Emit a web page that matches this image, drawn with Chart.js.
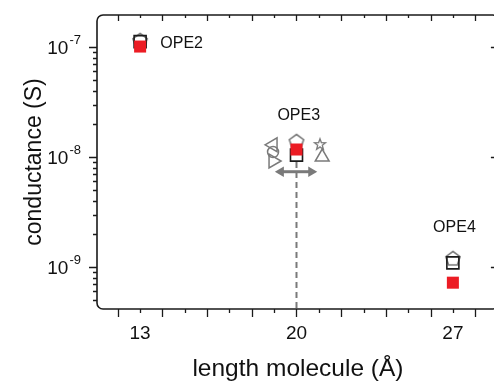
<!DOCTYPE html>
<html>
<head>
<meta charset="utf-8">
<script src="https://cdn.jsdelivr.net/npm/chart.js@4.4.0/dist/chart.umd.min.js"></script>
<style>
  html, body { margin: 0; padding: 0; background: #fff; overflow: hidden; }
  canvas { display: block; }
</style>
</head>
<body>
<canvas id="chart" width="509" height="385"></canvas>
<script>
// molecule lengths (Å) and conductances (S)
const lengths = [13, 20, 27];
const molecules = ['OPE2', 'OPE3', 'OPE4'];
const gRed = [1.01e-7, 1.17e-8, 7.2e-10];
const gSquare = [1.12e-7, 1.04e-8, 1.09e-9];
const gPentagon = [1.16e-7, 1.40e-8, 1.21e-9];

// other OPE3 values, drawn either side of 20 Å
const otherX = [18.95, 18.95, 18.95, 21.05, 21.15];
const otherG = [1.29e-8, 1.11e-8, 9.2e-9, 1.31e-8, 1.0e-8];

// spread arrow and dashed guide at OPE3
const arrowX = [19.3, 20.66];
const arrowG = 7.35e-9;
const guideX = 20;
const guideG = [9.0e-9, 4.0e-10];

// where the molecule names go
const nameX = [14.86, 20.1, 27.07];
const nameG = [1.08e-7, 2.36e-8, 2.29e-9];

const xTickLabels = [13, 20, 27];
const yDecades = [-9, -8, -7];

const FONT = "'Liberation Sans', Arial, sans-serif";
const GREY = '#7a7a7a';

function shape(size, draw) {
  const c = document.createElement('canvas');
  c.width = c.height = size;
  const ctx = c.getContext('2d');
  ctx.strokeStyle = GREY;
  ctx.lineWidth = 1.6;
  draw(ctx, size / 2);
  return c;
}

const pentagon = shape(20, (ctx, c) => {
  ctx.beginPath();
  for (let k = 0; k < 5; k++) {
    const a = -Math.PI / 2 + k * 2 * Math.PI / 5;
    const px = c + 7.5 * Math.cos(a), py = c + 1 + 7.5 * Math.sin(a);
    k ? ctx.lineTo(px, py) : ctx.moveTo(px, py);
  }
  ctx.closePath();
  ctx.stroke();
});

const star = shape(16, (ctx, c) => {
  ctx.lineWidth = 1.3;
  ctx.beginPath();
  for (let k = 0; k < 10; k++) {
    const a = -Math.PI / 2 + k * Math.PI / 5;
    const r = k % 2 ? 2.4 : 5.8;
    const px = c + r * Math.cos(a), py = c + 0.5 + r * Math.sin(a);
    k ? ctx.lineTo(px, py) : ctx.moveTo(px, py);
  }
  ctx.closePath();
  ctx.stroke();
});

const pts = (xs, ys) => xs.map((x, i) => ({x: x, y: ys[i]}));

const otherStyles = [
  {pointStyle: 'triangle', rotation: -90, radius: 8},
  {pointStyle: 'circle', rotation: 0, radius: 5.5},
  {pointStyle: 'triangle', rotation: 90, radius: 8},
  {pointStyle: star, rotation: 0, radius: 8},
  {pointStyle: 'triangle', rotation: 0, radius: 8}
];

const datasets = [
  {
    label: 'red', data: pts(lengths, gRed), showLine: false,
    pointStyle: 'rect', pointRadius: 8.5, pointBackgroundColor: '#ec1c24',
    pointBorderColor: '#ec1c24', pointBorderWidth: 0
  },
  {
    label: 'square', data: pts(lengths, gSquare), showLine: false,
    pointStyle: 'rect', pointRadius: 8.5, pointBackgroundColor: 'rgba(0,0,0,0)',
    pointBorderColor: '#1a1a1a', pointBorderWidth: 1.6
  },
  {
    label: 'pentagon', data: pts(lengths, gPentagon), showLine: false,
    pointStyle: pentagon, pointRadius: 8
  }
];

otherStyles.forEach((s, i) => {
  datasets.push({
    label: 'other' + i, data: [{x: otherX[i], y: otherG[i]}], showLine: false,
    pointStyle: s.pointStyle, pointRotation: s.rotation, pointRadius: s.radius,
    pointBackgroundColor: 'rgba(0,0,0,0)', pointBorderColor: GREY, pointBorderWidth: 1.5
  });
});

datasets.push({
  label: 'arrow', data: pts(arrowX, [arrowG, arrowG]), showLine: true,
  borderColor: GREY, borderWidth: 3, pointStyle: 'triangle',
  pointRotation: [-90, 90], pointRadius: 6, pointBorderWidth: 0,
  pointBackgroundColor: GREY
});
datasets.push({
  label: 'guide', data: pts([guideX, guideX], guideG), showLine: true,
  borderColor: GREY, borderWidth: 2, borderDash: [6, 4], pointRadius: 0
});

const framePlugin = {
  id: 'frame',
  beforeDatasetsDraw(chart) {
    const {ctx, chartArea: a, scales: {x, y}} = chart;
    ctx.save();
    ctx.strokeStyle = '#1a1a1a';
    ctx.lineWidth = 1.6;
    ctx.beginPath();
    ctx.roundRect(a.left, a.top, a.right - a.left, a.bottom - a.top, 6);
    ctx.stroke();
    ctx.lineWidth = 1.3;
    ctx.beginPath();
    for (let v = Math.ceil(x.min); v <= x.max; v++) {
      const px = Math.round(x.getPixelForValue(v)) + 0.5;
      const even = v % 2 === 0;
      ctx.moveTo(px, a.bottom); ctx.lineTo(px, a.bottom + (even ? 8 : 4));
      ctx.moveTo(px, a.top); ctx.lineTo(px, a.top + (even ? 6 : 3));
    }
    for (let d = -10; d <= -6; d++) {
      for (let m = 1; m <= 9; m++) {
        const v = m * Math.pow(10, d);
        if (v < y.min || v > y.max) continue;
        const py = Math.round(y.getPixelForValue(v)) + 0.5;
        const len = m === 1 ? 8 : 4;
        ctx.moveTo(a.left - len, py); ctx.lineTo(a.left, py);
        ctx.moveTo(a.right - len, py); ctx.lineTo(a.right, py);
      }
    }
    ctx.stroke();
    ctx.restore();
  },
  afterDatasetsDraw(chart) {
    const {ctx, chartArea: a, scales: {x, y}} = chart;
    ctx.save();
    ctx.fillStyle = '#111';
    // y tick labels with raised exponent
    yDecades.forEach(d => {
      const py = y.getPixelForValue(Math.pow(10, d));
      const exp = '-' + Math.abs(d);
      ctx.font = '13px ' + FONT;
      const ew = ctx.measureText(exp).width;
      const right = a.left - 16;
      ctx.textAlign = 'left';
      ctx.textBaseline = 'alphabetic';
      ctx.fillText(exp, right - ew, py - 3);
      ctx.font = '19px ' + FONT;
      ctx.textAlign = 'right';
      ctx.fillText('10', right - ew - 1, py + 7);
    });
    // molecule names
    ctx.font = '16px ' + FONT;
    ctx.textAlign = 'center';
    ctx.textBaseline = 'middle';
    molecules.forEach((m, i) => {
      ctx.fillText(m, x.getPixelForValue(nameX[i]), y.getPixelForValue(nameG[i]));
    });
    ctx.restore();
  }
};

new Chart(document.getElementById('chart'), {
  type: 'scatter',
  data: {datasets: datasets},
  options: {
    responsive: false,
    animation: false,
    layout: {padding: {top: 15, right: 2, left: 0, bottom: 0}},
    plugins: {legend: {display: false}, tooltip: {enabled: false}},
    scales: {
      x: {
        type: 'linear', min: 11.07, max: 29.06,
        grid: {display: false, drawTicks: false}, border: {display: false},
        ticks: {
          stepSize: 1, autoSkip: false, maxRotation: 0, includeBounds: false,
          padding: 13, color: '#111', font: {family: FONT, size: 19},
          callback: v => xTickLabels.includes(v) ? String(v) : ''
        },
        title: {
          display: true, text: 'length molecule (Å)', color: '#111',
          font: {family: FONT, size: 24.5}, padding: {top: 0, bottom: 1}
        },
        afterFit: s => { s.height = 76; s.paddingLeft = 0; s.paddingRight = 0; }
      },
      y: {
        type: 'logarithmic', min: 4.15e-10, max: 1.955e-7,
        grid: {display: false, drawTicks: false}, border: {display: false},
        ticks: {display: false},
        title: {
          display: true, text: 'conductance (S)', color: '#111',
          font: {family: FONT, size: 23}, padding: {top: 21, bottom: 0}
        },
        afterFit: s => { s.width = 97; s.paddingTop = 0; s.paddingBottom = 0; }
      }
    }
  },
  plugins: [framePlugin]
});
</script>
</body>
</html>
